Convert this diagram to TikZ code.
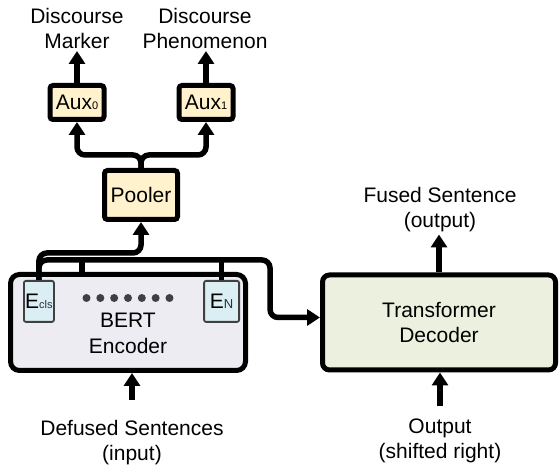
\documentclass[tikz,border=0pt]{standalone}
\usepackage{fontspec}
\setmainfont{Liberation Sans}
\usetikzlibrary{positioning,arrows.meta}

\definecolor{auxfill}{RGB}{255,242,204}
\definecolor{encfill}{RGB}{238,236,243}
\definecolor{decfill}{RGB}{235,241,222}
\definecolor{embfill}{RGB}{219,238,244}
\definecolor{embline}{RGB}{64,64,64}
\definecolor{subtext}{RGB}{40,45,70}

\newcommand{\bigfont}{\fontsize{21}{25.5}\selectfont}
\newcommand{\subfont}{\fontsize{11}{11}\selectfont}

\begin{document}
\begin{tikzpicture}[x=1pt, y=1pt,
    block/.style={rectangle, draw, line width=5pt, rounded corners=3pt, fill=auxfill, inner sep=0pt, font=\bigfont},
    encbox/.style={rectangle, draw, line width=5pt, rounded corners=9pt, fill=encfill, minimum width=235pt, minimum height=96pt, align=center, inner sep=0pt, font=\bigfont},
    decbox/.style={rectangle, draw, line width=5pt, rounded corners=7pt, fill=decfill, minimum width=233pt, minimum height=95pt, align=center, inner sep=0pt, font=\bigfont},
    embed/.style={rectangle, draw=embline, line width=1.8pt, rounded corners=2pt, fill=embfill, minimum height=41pt, inner sep=0pt, font=\bigfont},
    textlbl/.style={align=center, inner sep=2pt, font=\bigfont},
    wire/.style={line width=5.5pt},
    flow/.style={wire, -{Triangle[width=16pt,length=13pt]}}]

\useasboundingbox (0,0) rectangle (559,465);

% Encoder and decoder
\node[encbox] (enc) at (128,142.5) {\strut\\\strut BERT\\\strut Encoder};
\node[decbox, right=72pt of enc] (dec) {Transformer\\Decoder};

% Token embeddings
\node[embed, minimum width=30pt, below right=8pt and 15pt of enc.north west] (ecls) {E{\subfont\color{subtext}cls}};
\node[embed, minimum width=35pt, below left=8pt and 8pt of enc.north east] (en) {E{\fontsize{13}{13}\selectfont\color{subtext}N}};
\foreach \i in {0,...,6}
    \fill[embline] ([xshift={-41.5pt+13.83pt*\i}, yshift=24.5pt]enc.center) circle (4pt);

% Pooler and auxiliary heads
\node[block, minimum width=73pt, minimum height=49pt, above=50pt of enc, xshift=13pt] (pooler) {Pooler};
\node[block, minimum width=54pt, minimum height=34pt, above=46pt of pooler, xshift=-64pt] (aux0) {Aux{\subfont 0}};
\node[block, minimum width=54pt, minimum height=34pt, right=70pt of aux0] (aux1) {Aux{\subfont 1}};

% Texts
\node[textlbl, above=32pt of aux0] (marker) {Discourse\\Marker};
\node[textlbl, above=32pt of aux1, xshift=-1pt] (phen) {Discourse\\Phenomenon};
\node[textlbl, above=38pt of dec, xshift=1pt] (fused) {Fused Sentence\\(output)};
\node[textlbl, below=45pt of enc, xshift=4pt] (input) {Defused Sentences\\(input)};
\node[textlbl, below=44pt of dec, xshift=1pt] (output) {Output\\(shifted right)};

% Connections
\coordinate (busL) at ([yshift=20pt]ecls.north);
\coordinate (busR) at ([xshift=22pt]busL -| enc.east);
\draw[wire] (en.north) -- (en.north |- busL);
\draw[wire] ([xshift=-46pt]enc.north) -- ([xshift=-46pt]enc.north |- busL);
\draw[flow, rounded corners=8pt] (ecls.north) -- (busL) -- (busR) |- ([yshift=5pt]dec.west);
\draw[flow, rounded corners=8pt] (ecls.north) -- ([yshift=27pt]ecls.north) -| (pooler.south);
\draw[flow, rounded corners=8pt] (pooler.north) -- ++(0,13) -| (aux0.south);
\draw[flow, rounded corners=8pt] (pooler.north) -- ++(0,13) -| (aux1.south);
\draw[flow] (aux0.north) -- (aux0.north |- marker.south);
\draw[flow] (aux1.north) -- (aux1.north |- phen.south);
\draw[flow] (dec.north) -- (dec.north |- fused.south);
\draw[flow, shorten <=18pt] (input.north) -- (input.north |- enc.south);
\draw[flow, shorten <=10pt] (output.north) -- (output.north |- dec.south);

\end{tikzpicture}
\end{document}
